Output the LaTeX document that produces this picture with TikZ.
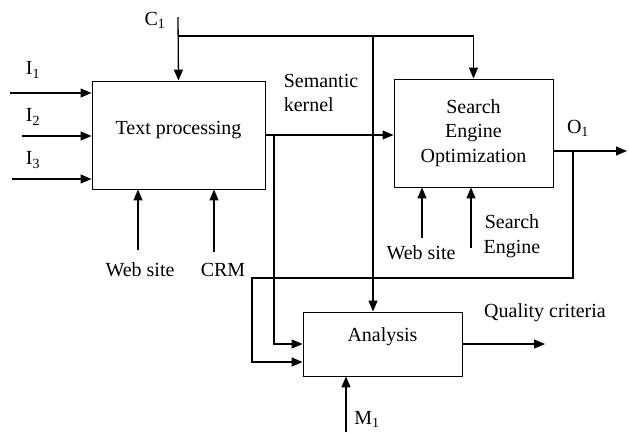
\documentclass[tikz,border=0pt]{standalone}
\usepackage{fontspec}
\setmainfont{Liberation Serif}
\usepackage{tikz}
\usetikzlibrary{arrows.meta, positioning}

\begin{document}
\begin{tikzpicture}[x=1pt, y=-1pt, line width=0.9pt,
  every node/.style={font=\fontsize{20}{24.5}\selectfont, inner sep=0pt},
  box/.style={draw, rectangle, inner sep=2pt},
  arr/.style={-{Triangle[length=11pt, width=9pt]}, line width=1.3pt}]
  \useasboundingbox (0,0) rectangle (629,432);
  % blocks
  \node[box, minimum width=173pt, minimum height=108pt, text depth=16pt, text height=14pt] (tp) at (178.5,135) {Text processing};
  \node[box, minimum width=159pt, minimum height=108pt, align=center] (seo) at (473.5,133) {Search\\Engine\\Optimization};
  \node[box, minimum width=159pt, minimum height=64pt, text depth=20pt, text height=14pt] (an) at (382.5,344) {Analysis};
  % control
  \coordinate (c1) at (178,17);
  \coordinate (cj) at (178,36);
  \coordinate (cm) at (373,36);
  \node (lc1) at (155,20) {C\textsubscript{1}};
  \draw[arr] (c1) -- (tp.north);
  \draw[arr] (cj) -| (seo.north);
  \draw[arr] (cm) -- (cm |- an.north);
  % inputs
  \coordinate (i1) at (10,93);
  \coordinate (i2) at (22,136);
  \coordinate (i3) at (12,179);
  \draw[arr] (i1) -- (i1 -| tp.west);
  \draw[arr] (i2) -- (i2 -| tp.west);
  \draw[arr] (i3) -- (i3 -| tp.west);
  \node (li1) at (33,70) {I\textsubscript{1}};
  \node (li2) at (33,117) {I\textsubscript{2}};
  \node (li3) at (33,160) {I\textsubscript{3}};
  % mechanisms
  \coordinate (w1) at (138,250);
  \coordinate (crm) at (214,252);
  \coordinate (w2) at (422,238);
  \coordinate (se) at (471,248);
  \coordinate (m1) at (346,432);
  \draw[arr] (w1) -- (w1 |- tp.south);
  \draw[arr] (crm) -- (crm |- tp.south);
  \draw[arr] (w2) -- (w2 |- seo.south);
  \draw[arr] (se) -- (se |- seo.south);
  \draw[arr] (m1) -- (m1 |- an.south);
  \node (lw1) at (140,270) {Web site};
  \node (lcrm) at (223,270) {CRM};
  \node (lw2) at (421,253) {Web site};
  \node[align=center] (lse) at (512,236) {Search\\Engine};
  \node (lm1) at (367,419) {M\textsubscript{1}};
  % outputs
  \coordinate (sk) at (274,135);
  \coordinate (o1) at (627,151);
  \coordinate (ob) at (573,151);
  \coordinate (fb) at (252,278);
  \draw[arr] (tp.east) -- (tp.east -| seo.west);
  \draw[arr] (sk) |- (an.west);
  \draw[arr] (o1 -| seo.east) -- (o1);
  \draw[arr] (ob) |- (fb) |- ([yshift=-18pt]an.west);
  \draw[arr] (an.east) -- (545,344);
  \node[align=left] (lsk) at (321,93) {Semantic\\kernel};
  \node (lo1) at (578,128) {O\textsubscript{1}};
  \node (lq) at (545,313) {Quality criteria};
\end{tikzpicture}
\end{document}
